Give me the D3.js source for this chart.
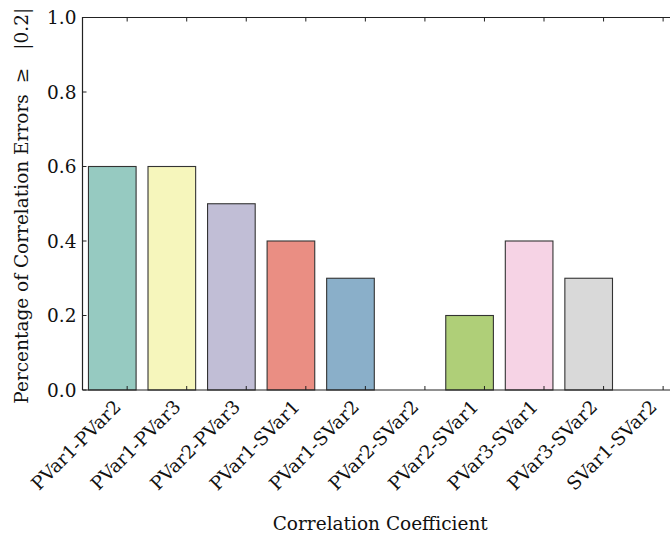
<!DOCTYPE html>
<html>
<head>
<meta charset="utf-8">
<script src="https://cdn.jsdelivr.net/npm/d3@7"></script>
<style>
  html, body { margin: 0; padding: 0; background: #fff; }
  svg { display: block; }
  text { font-family: "DejaVu Serif", serif; fill: #111; }
</style>
</head>
<body>
<svg id="chart" width="670" height="538"></svg>
<script>
// Correlation pairs and the share of their errors at or above |0.2|
const categories = [
  "PVar1-PVar2", "PVar1-PVar3", "PVar2-PVar3", "PVar1-SVar1", "PVar1-SVar2",
  "PVar2-SVar2", "PVar2-SVar1", "PVar3-SVar1", "PVar3-SVar2", "SVar1-SVar2"
];
const values = [0.6, 0.6, 0.5, 0.4, 0.3, 0.0, 0.2, 0.4, 0.3, 0.0];
const yTicks = [0.0, 0.2, 0.4, 0.6, 0.8, 1.0];

// Set3 palette, desaturated to 75%
const palette = ["#8dd3c7", "#ffffb3", "#bebada", "#fb8072", "#80b1d3",
                 "#fdb462", "#b3de69", "#fccde5", "#d9d9d9", "#bc80bd"];
const colors = palette.map(c => { const h = d3.hsl(c); h.s *= 0.75; return h.formatHex(); });

const svg = d3.select("#chart");
const mLeft = 82.5, mRight = 678, mTop = 17.5, mBottom = 390;

const x = d3.scaleLinear().domain([-0.5, categories.length - 0.5]).range([mLeft, mRight]);
const y = d3.scaleLinear().domain([0, 1]).range([mBottom, mTop]);
const barWidth = 0.8, tickShift = 0.25, fs = 18.5;

// bars
svg.append("g").selectAll("rect")
  .data(values)
  .join("rect")
  .attr("x", (d, i) => x(i - barWidth / 2))
  .attr("width", x(barWidth) - x(0))
  .attr("y", d => y(d))
  .attr("height", d => y(0) - y(d))
  .attr("fill", (d, i) => colors[i])
  .attr("stroke", "#333")
  .attr("stroke-width", 1.1);

// frame
const frame = svg.append("g").attr("stroke", "#222").attr("stroke-width", 1.2).attr("fill", "none");
frame.append("path").attr("d", `M${mLeft},${mBottom}V${mTop}H${mRight}V${mBottom}H${mLeft}`);

// x ticks (inward, top and bottom)
const xt = categories.map((c, i) => i + tickShift);
const ticks = svg.append("g").attr("stroke", "#222").attr("stroke-width", 1);
xt.forEach(t => {
  ticks.append("line").attr("x1", x(t)).attr("x2", x(t)).attr("y1", mBottom).attr("y2", mBottom - 4);
  ticks.append("line").attr("x1", x(t)).attr("x2", x(t)).attr("y1", mTop).attr("y2", mTop + 4);
});
// y ticks (inward)
yTicks.forEach(t => {
  ticks.append("line").attr("x1", mLeft).attr("x2", mLeft + 4).attr("y1", y(t)).attr("y2", y(t));
  ticks.append("line").attr("x1", mRight).attr("x2", mRight - 4).attr("y1", y(t)).attr("y2", y(t));
});

// y tick labels
svg.append("g").selectAll("text")
  .data(yTicks)
  .join("text")
  .attr("x", mLeft - 6)
  .attr("y", d => y(d))
  .attr("dy", "0.36em")
  .attr("text-anchor", "end")
  .attr("font-size", fs)
  .text(d => d3.format(".1f")(d));

// x tick labels, rotated 45 degrees
svg.append("g").selectAll("text")
  .data(categories)
  .join("text")
  .attr("text-anchor", "end")
  .attr("font-size", fs)
  .attr("transform", (d, i) => `translate(${x(xt[i]) - 5},${mBottom + 18}) rotate(-45)`)
  .text(d => d);

// axis titles
svg.append("text")
  .attr("x", (mLeft + mRight) / 2)
  .attr("y", 530)
  .attr("text-anchor", "middle")
  .attr("font-size", fs)
  .text("Correlation Coefficient");

const yTitle = svg.append("text")
  .attr("transform", `translate(28,${(mTop + mBottom) / 2 + 2}) rotate(-90)`)
  .attr("text-anchor", "middle")
  .attr("font-size", 18.5);
yTitle.append("tspan").text("Percentage of Correlation Errors");
yTitle.append("tspan").attr("dx", 11).text("\u2265");
yTitle.append("tspan").attr("dx", 18).text("|0.2|");
</script>
</body>
</html>
